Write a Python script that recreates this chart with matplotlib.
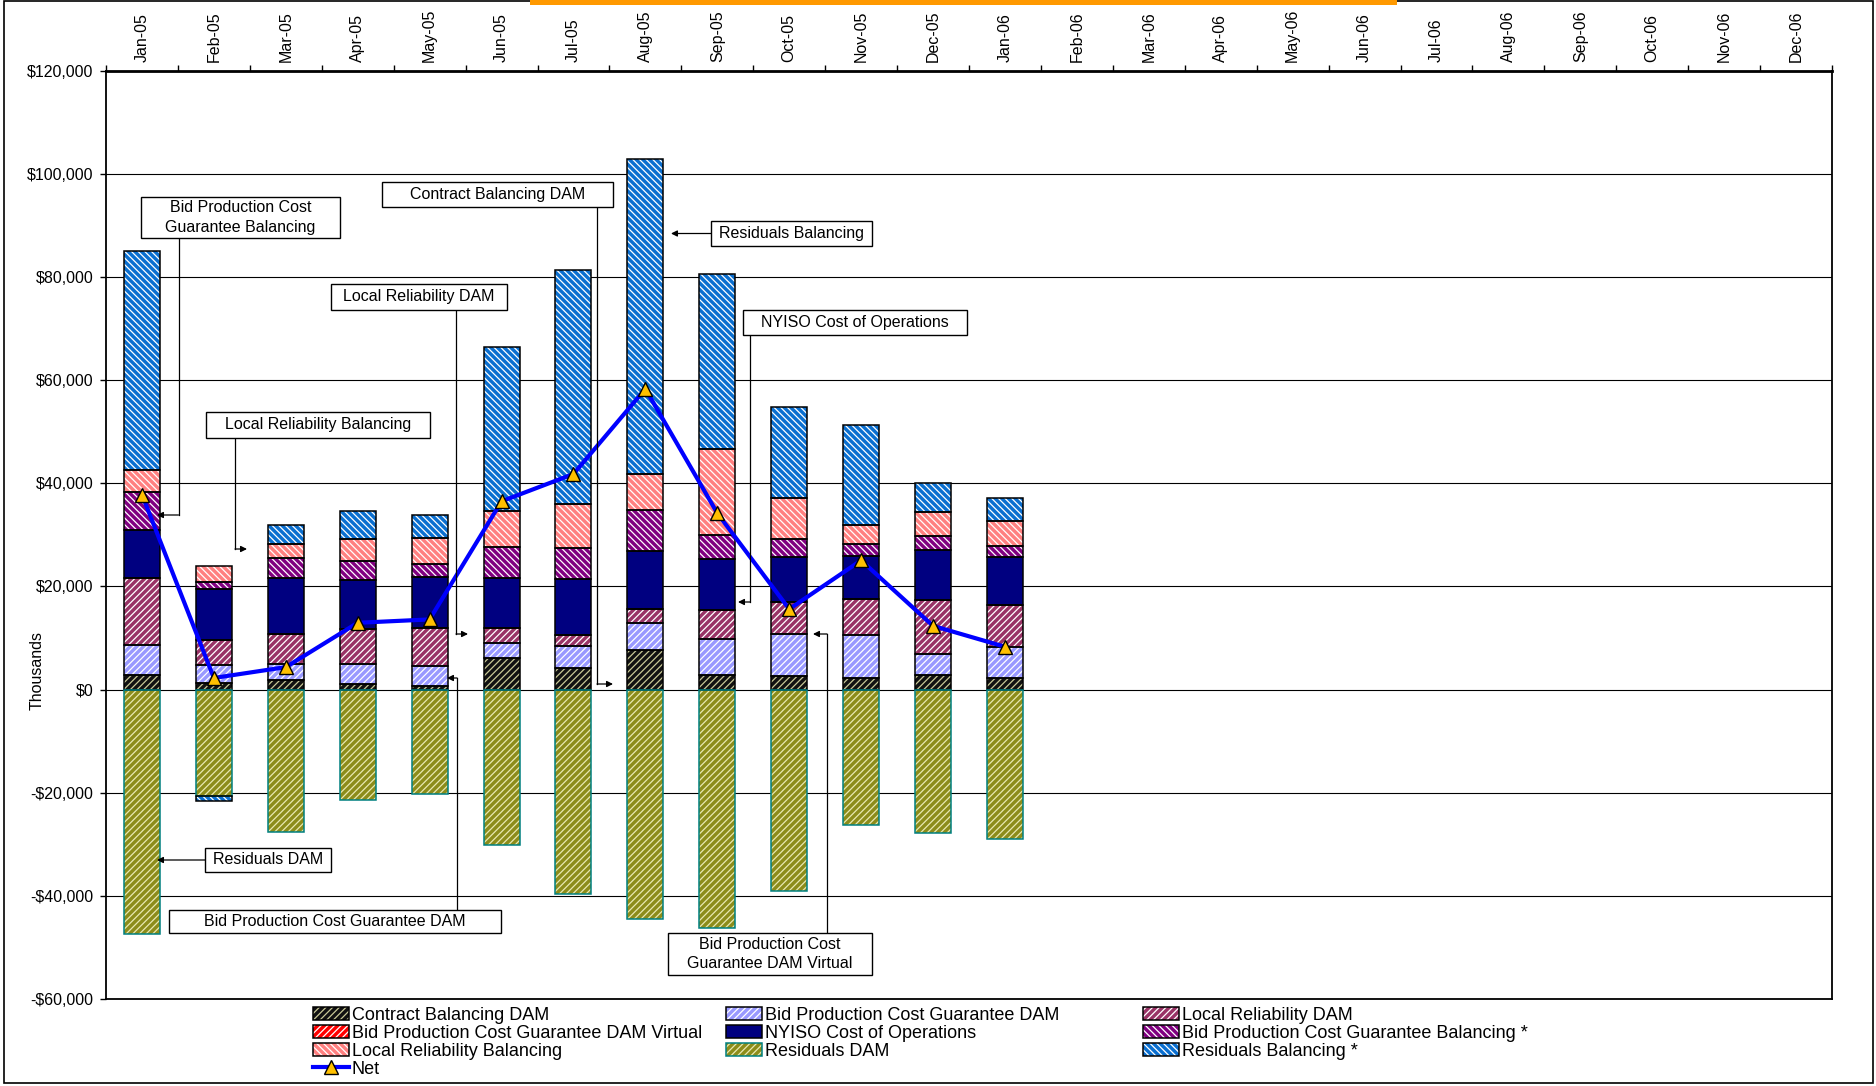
import numpy as np
import matplotlib
matplotlib.use('Agg')
import matplotlib.pyplot as plt
from matplotlib.patches import Rectangle, Patch, FancyArrowPatch
from matplotlib.lines import Line2D
from matplotlib.legend_handler import HandlerTuple
from matplotlib.ticker import FuncFormatter
from matplotlib.transforms import Affine2D

plt.rcParams['font.family'] = ['Liberation Sans', 'DejaVu Sans']
plt.rcParams['hatch.linewidth'] = 0.9

# ---------------- data ----------------
months = ['Jan-05', 'Feb-05', 'Mar-05', 'Apr-05', 'May-05', 'Jun-05', 'Jul-05', 'Aug-05',
          'Sep-05', 'Oct-05', 'Nov-05', 'Dec-05', 'Jan-06', 'Feb-06', 'Mar-06', 'Apr-06',
          'May-06', 'Jun-06', 'Jul-06', 'Aug-06', 'Sep-06', 'Oct-06', 'Nov-06', 'Dec-06']

contract_balancing_dam = [2800, 1300, 1900, 1100, 650, 6100, 4250, 7750, 2850, 2650, 2200, 2850, 2200]
bpcg_dam = [5900, 3550, 3100, 3950, 3900, 2900, 4150, 5200, 6950, 8100, 8300, 4100, 6000]
local_reliability_dam = [12850, 4700, 5750, 6600, 7450, 2850, 2150, 2600, 5600, 6250, 7000, 10450, 8250]
bpcg_dam_virtual = [0, 0, 0, 0, 0, 0, 0, 0, 0, 0, 0, 0, 0]
nyiso_cost_of_operations = [9300, 10000, 10800, 9550, 9900, 9750, 10900, 11300, 9900, 8800, 8450, 9600, 9300]
bpcg_balancing = [7500, 1300, 3950, 3700, 2500, 5950, 6000, 7900, 4750, 3450, 2300, 2700, 2150]
local_reliability_balancing = [4150, 3050, 2700, 4350, 4900, 7150, 8600, 7100, 16550, 7800, 3700, 4650, 4800]
residuals_dam = [-47300, -20700, -27600, -21500, -20200, -30050, -39550, -44450, -46200, -39150, -26350, -27800, -28950]
residuals_balancing = [42450, -1000, 3750, 5350, 4600, 31800, 45250, 61050, 33900, 17800, 19350, 5750, 4500]
net = [37800, 2250, 4350, 12950, 13600, 36500, 41800, 58300, 34200, 15600, 25050, 12350, 8300]

series_labels = ['Contract Balancing DAM', 'Bid Production Cost Guarantee DAM', 'Local Reliability DAM',
                 'Bid Production Cost Guarantee DAM Virtual', 'NYISO Cost of Operations',
                 'Bid Production Cost Guarantee Balancing *', 'Local Reliability Balancing',
                 'Residuals DAM', 'Residuals Balancing *']
series_values = [contract_balancing_dam, bpcg_dam, local_reliability_dam, bpcg_dam_virtual,
                 nyiso_cost_of_operations, bpcg_balancing, local_reliability_balancing,
                 residuals_dam, residuals_balancing]

# face, hatch, hatch colour, edge colour
styles = [
    ('#111111', '/////', '#c8c896', 'black'),
    ('#9999ff', '/////', 'white', 'black'),
    ('#993366', '/////', 'white', 'black'),
    ('#ff0000', '/////', 'white', 'black'),
    ('#000080', None, '#000080', 'black'),
    ('#800080', '\\\\\\\\\\', 'white', 'black'),
    ('#ff8080', '\\\\\\\\\\', 'white', 'black'),
    ('#8c8c1a', '/////', '#e8e8b0', '#008080'),
    ('#0a6fd0', '\\\\\\\\\\', 'white', 'black'),
]

W, H = 1876, 1086
fig = plt.figure(figsize=(W / 100, H / 100), dpi=100)
T = Affine2D().scale(1, -1).translate(0, H)  # pixel coords from top-left

ax_l, ax_r, ax_t, ax_b = 106, 1832, 70.7, 999
ax = fig.add_axes([ax_l / W, 1 - ax_b / H, (ax_r - ax_l) / W, (ax_b - ax_t) / H])

x = np.arange(len(net))
pos = np.zeros(len(x))
neg = np.zeros(len(x))
for vals, (face, hatch, hc, ec) in zip(series_values, styles):
    v = np.array(vals, dtype=float)
    bottom = np.where(v >= 0, pos, neg)
    ax.bar(x, v, 0.5, bottom=bottom, color=face, edgecolor=hc, hatch=hatch, linewidth=0, zorder=2)
    ax.bar(x, v, 0.5, bottom=bottom, fill=False, edgecolor=ec, linewidth=1.1, zorder=3)
    pos = pos + np.where(v >= 0, v, 0)
    neg = neg + np.where(v < 0, v, 0)

ax.plot(x, net, color='#0000ff', lw=3, marker='^', ms=9.5, mfc='#ffc000', mec='black', mew=1, zorder=5)

ax.set_xlim(-0.5, len(months) - 0.5)
ax.set_ylim(-60000, 120000)
ax.set_yticks(np.arange(-60000, 120001, 20000))
ax.yaxis.set_major_formatter(FuncFormatter(lambda v, p: f"-${abs(v):,.0f}" if v < 0 else f"${v:,.0f}"))
ax.grid(axis='y', color='black', lw=0.8)
ax.set_axisbelow(True)

ax.set_xticks(np.arange(len(months)))
ax.set_xticklabels(months, rotation=90, fontsize=11.5)
ax.set_xticks(np.arange(-0.5, len(months), 1), minor=True)
ax.tick_params(axis='x', which='both', top=True, bottom=False, labeltop=True, labelbottom=False)
ax.tick_params(axis='x', which='major', length=0, pad=6)
ax.tick_params(axis='x', which='minor', length=4, width=1, direction='out')
ax.tick_params(axis='y', which='major', length=4, width=1, direction='out', pad=5, labelsize=11.5)
for s in ax.spines.values():
    s.set_linewidth(1.3)
ax.spines['top'].set_linewidth(2)

ax.set_ylabel('Thousands', fontsize=11.5)
ax.yaxis.set_label_coords((45 - ax_l) / (ax_r - ax_l), (ax_b - 670) / (ax_b - ax_t))

# ---------------- annotations (pixel coords) ----------------
def box(x0, y0, x1, y1, text):
    fig.add_artist(Rectangle((x0, y0), x1 - x0, y1 - y0, transform=T, facecolor='white',
                             edgecolor='black', lw=1.0, zorder=10))
    fig.text((x0 + x1) / 2, (y0 + y1) / 2, text, transform=T, ha='center', va='center',
             fontsize=11.5, linespacing=1.4, zorder=11)

def connector(pts):
    xs = [p[0] for p in pts]
    ys = [p[1] for p in pts]
    if len(pts) > 2:
        fig.add_artist(Line2D(xs[:-1], ys[:-1], transform=T, color='black', lw=0.9, zorder=9))
    fig.add_artist(FancyArrowPatch(pts[-2], pts[-1], transform=T, arrowstyle='-|>',
                                   mutation_scale=9, color='black', lw=0.9,
                                   shrinkA=0, shrinkB=0, zorder=9))

box(141, 197, 340, 238, 'Bid Production Cost\nGuarantee Balancing')
connector([(178.5, 238), (178.5, 515), (157, 515)])

box(206, 412, 430, 438, 'Local Reliability Balancing')
connector([(235, 438), (235, 549), (247, 549)])

box(331, 284, 507, 310, 'Local Reliability DAM')
connector([(456, 310), (456, 634), (468, 634)])

box(382, 182, 613, 207, 'Contract Balancing DAM')
connector([(597, 207), (597, 684), (613, 684)])

box(711, 221, 872, 246, 'Residuals Balancing')
connector([(711, 233.5), (671, 233.5)])

box(743, 310, 967, 335, 'NYISO Cost of Operations')
connector([(750, 335), (750, 602), (738, 602)])

box(668, 933, 872, 975, 'Bid Production Cost\nGuarantee DAM Virtual')
connector([(827, 933), (827, 634), (813, 634)])

box(169, 910, 501, 933, 'Bid Production Cost Guarantee DAM')
connector([(457, 910), (457, 678), (447, 678)])

box(205, 848, 331, 872, 'Residuals DAM')
connector([(205, 860), (157, 860)])

# ---------------- legend ----------------
def handle(i):
    face, hatch, hc, ec = styles[i]
    return (Patch(facecolor=face, edgecolor=hc, hatch=hatch, lw=0),
            Patch(fill=False, edgecolor=ec, lw=1.1))

net_handle = Line2D([], [], color='#0000ff', lw=3, marker='^', ms=9.5, mfc='#ffc000', mec='black', mew=1)
columns = [
    ([handle(0), handle(3), handle(6), net_handle], [series_labels[0], series_labels[3], series_labels[6], 'Net'], 313),
    ([handle(1), handle(4), handle(7)], [series_labels[1], series_labels[4], series_labels[7]], 726),
    ([handle(2), handle(5), handle(8)], [series_labels[2], series_labels[5], series_labels[8]], 1143),
]
for hs, ls, xpix in columns:
    fig.legend(hs, ls, loc='upper left', bbox_to_anchor=(xpix, 1007), bbox_transform=T,
               frameon=False, fontsize=13, handlelength=2.0, handleheight=0.7,
               handletextpad=0.15, labelspacing=0.05, borderpad=0, borderaxespad=0,
               handler_map={tuple: HandlerTuple(ndivide=1, pad=0)})

# chart border and orange bar
fig.add_artist(Rectangle((4, 1), W - 7, H - 4, transform=T, fill=False, edgecolor='black', lw=1.2))
fig.add_artist(Rectangle((530, 0), 867, 5, transform=T, facecolor='#ff9900', edgecolor='none'))

fig.savefig('out.png', dpi=100)
